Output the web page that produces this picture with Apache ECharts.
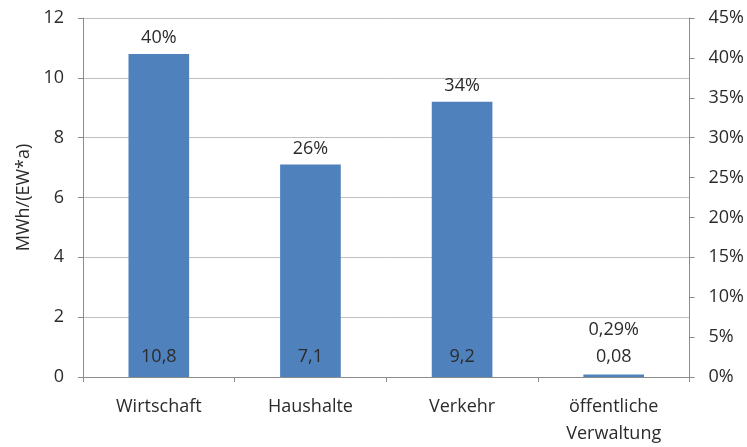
<!DOCTYPE html>
<html>
<head>
<meta charset="utf-8">
<script src="https://cdn.jsdelivr.net/npm/echarts@6/dist/echarts.min.js"></script>
<style>
html, body { margin: 0; padding: 0; background: #fff; }
#chart1 { width: 747px; height: 447px; }
</style>
</head>
<body>
<div id="chart1"></div>
<script>
var categories = ['Wirtschaft', 'Haushalte', 'Verkehr', 'öffentliche\nVerwaltung'];
var values = [10.8, 7.1, 9.2, 0.08];
var valueLabels = ['10,8', '7,1', '9,2', '0,08'];
var shares = ['40%', '26%', '34%', '0,29%'];
var leftTicks = [0, 2, 4, 6, 8, 10, 12];
var rightTicks = [0, 5, 10, 15, 20, 25, 30, 35, 40, 45];

var textColor = '#2b2b2b';
var fontFamily = '"Open Sans", sans-serif';
var chart1 = echarts.init(document.getElementById('chart1'));

// label over the tiny bar sits higher so it clears the value label
var barData = values.map(function (v, i) {
	var item = { value: v };
	if (v < 1) {
		item.label = { distance: 36 };
	}
	return item;
});

var option = {
	backgroundColor: '#ffffff',
	animation: false,
	textStyle: {
		fontFamily: fontFamily,
		color: textColor
	},
	grid: {
		left: 83,
		right: 57,
		top: 18,
		bottom: 67
	},
	xAxis: {
		type: 'category',
		data: categories,
		axisLine: {
			lineStyle: { color: '#8c8c8c' }
		},
		axisTick: {
			show: true,
			length: 5,
			lineStyle: { color: '#8c8c8c' }
		},
		axisLabel: {
			color: textColor,
			fontSize: 18,
			margin: 16,
			lineHeight: 27,
			interval: 0
		}
	},
	yAxis: [{
		type: 'value',
		name: 'MWh/(EW*a)',
		nameLocation: 'middle',
		nameGap: 50,
		nameTextStyle: {
			color: textColor,
			fontSize: 18
		},
		min: leftTicks[0],
		max: leftTicks[leftTicks.length - 1],
		interval: leftTicks[1] - leftTicks[0],
		axisLine: {
			show: true,
			lineStyle: { color: '#8c8c8c' }
		},
		axisTick: {
			show: true,
			length: 5,
			lineStyle: { color: '#8c8c8c' }
		},
		axisLabel: {
			color: textColor,
			fontSize: 18,
			margin: 19
		},
		splitLine: {
			lineStyle: { color: '#bfbfbf' }
		}
	}, {
		type: 'value',
		position: 'right',
		min: rightTicks[0],
		max: rightTicks[rightTicks.length - 1],
		interval: rightTicks[1] - rightTicks[0],
		axisLine: {
			show: true,
			lineStyle: { color: '#8c8c8c' }
		},
		axisTick: {
			show: true,
			length: 5,
			lineStyle: { color: '#8c8c8c' }
		},
		axisLabel: {
			color: textColor,
			fontSize: 18,
			margin: 19,
			formatter: '{value}%'
		},
		splitLine: { show: false }
	}],
	series: [{
		type: 'bar',
		data: barData,
		barWidth: '40%',
		itemStyle: {
			color: '#4f81bd'
		},
		label: {
			show: true,
			position: 'top',
			distance: 7,
			color: textColor,
			fontSize: 18,
			formatter: function (p) {
				return shares[p.dataIndex];
			}
		},
		z: 2
	}, {
		// second pass over the same bars for the value labels near the base
		type: 'bar',
		data: values,
		barWidth: '40%',
		barGap: '-100%',
		itemStyle: {
			color: 'rgba(0,0,0,0)'
		},
		label: {
			show: true,
			position: 'insideBottom',
			distance: 11,
			color: textColor,
			fontSize: 18,
			formatter: function (p) {
				return valueLabels[p.dataIndex];
			}
		},
		z: 3
	}]
};

chart1.setOption(option);
</script>
</body>
</html>
